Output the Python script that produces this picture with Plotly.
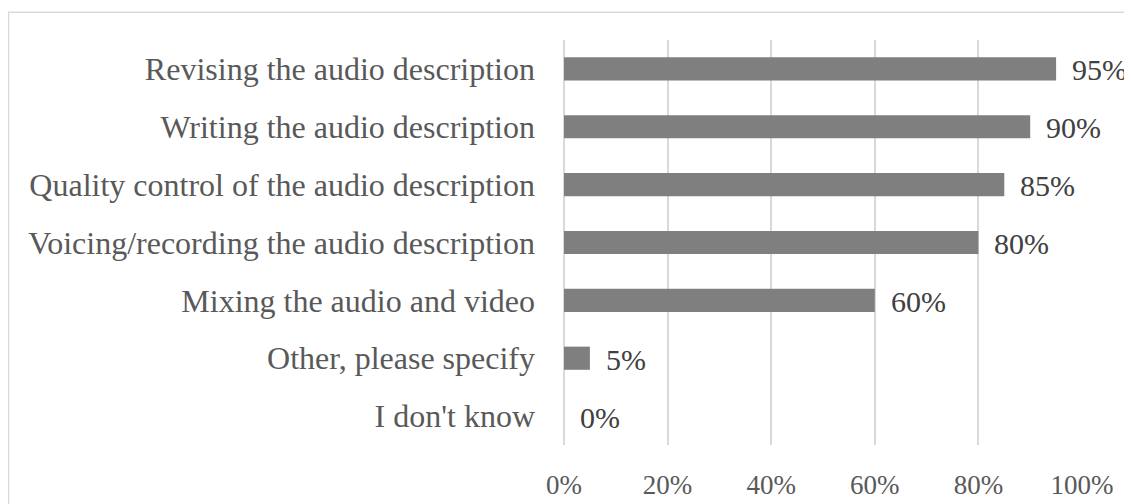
import plotly.graph_objects as go

categories = [
    "Revising the audio description",
    "Writing the audio description",
    "Quality control of the audio description",
    "Voicing/recording the audio description",
    "Mixing the audio and video",
    "Other, please specify",
    "I don't know",
]
values = [0.95, 0.90, 0.85, 0.80, 0.60, 0.05, 0.0]
value_labels = ["95%", "90%", "85%", "80%", "60%", "5%", "0%"]
tick_values = [0, 0.2, 0.4, 0.6, 0.8, 1.0]
tick_labels = ["0%", "20%", "40%", "60%", "80%", "100%"]

FONT = "Liberation Serif, Times New Roman, serif"

fig = go.Figure()
fig.add_trace(go.Bar(
    x=values,
    y=categories,
    orientation="h",
    marker=dict(color="#7f7f7f", line=dict(width=0)),
    hoverinfo="skip",
))

for cat, val, lab in zip(categories, values, value_labels):
    fig.add_annotation(
        x=val, y=cat, text=lab, showarrow=False,
        xanchor="left", yanchor="middle", xshift=14, yshift=-1,
        font=dict(family=FONT, size=30, color="#404040"),
    )

# the page body adds an 8px offset, so the figure is laid out 8px up/left
L, R, T, B = 556, 58, 32, 65
W, H = 1132, 504
pw, ph = W - L - R, H - T - B

# chart border (extends past the right and bottom edges as in the reference)
fig.add_shape(
    type="rect", xref="paper", yref="paper",
    x0=(0.5 - L) / pw, x1=(W + 20 - L) / pw,
    y0=-(H + 20 - (H - B)) / ph, y1=((H - B) - 4) / ph,
    line=dict(color="#d9d9d9", width=1.5), fillcolor="rgba(0,0,0,0)",
    layer="below",
)

fig.update_layout(
    width=W, height=H,
    margin=dict(l=L, r=R, t=T, b=B, pad=0),
    paper_bgcolor="white", plot_bgcolor="white",
    bargap=0.6,
    showlegend=False,
    font=dict(family=FONT, color="#595959"),
    xaxis=dict(
        range=[0, 1.0],
        tickvals=tick_values, ticktext=tick_labels,
        showgrid=True, gridcolor="#d9d9d9", gridwidth=1.5,
        zeroline=True, zerolinecolor="#d9d9d9", zerolinewidth=1.5,
        showline=False, ticks="",
        tickfont=dict(family=FONT, size=27, color="#595959"),
        ticklabelstandoff=21,
    ),
    yaxis=dict(
        autorange="reversed",
        showgrid=False, zeroline=False, showline=False, ticks="",
        tickfont=dict(family=FONT, size=32, color="#595959"),
        ticklabelstandoff=28,
    ),
)

fig.write_html("out.html")
